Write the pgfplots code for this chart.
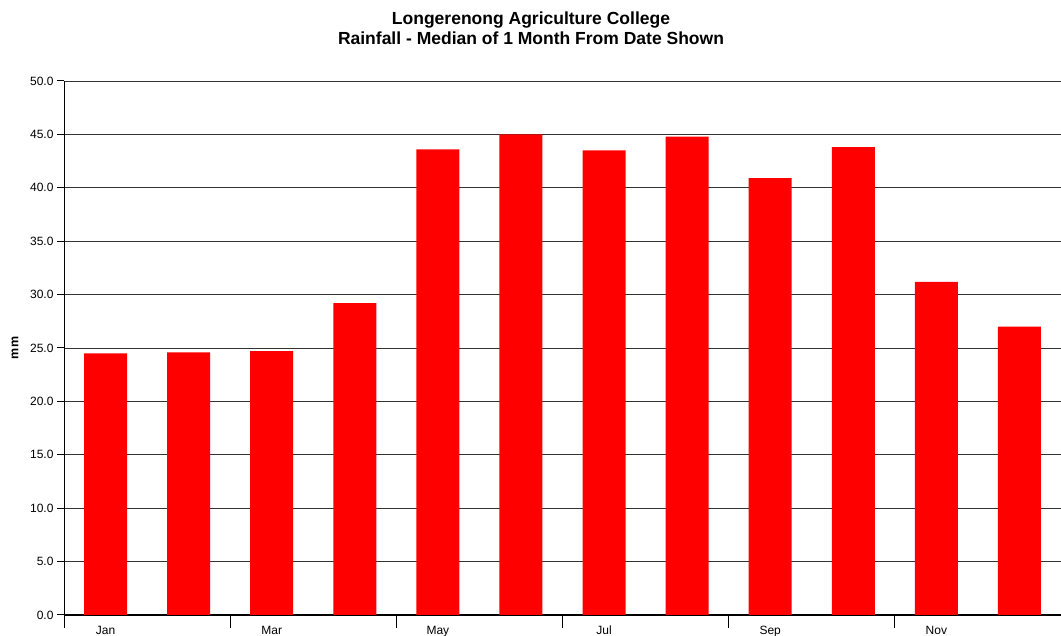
\documentclass[border=0pt]{standalone}
\usepackage{fontspec}
\setmainfont{Liberation Sans}
\usepackage{pgfplots}
\pgfplotsset{compat=1.18}
\pgfplotstableread{
x y
0.5 24.5
1.5 24.6
2.5 24.7
3.5 29.2
4.5 43.6
5.5 45.0
6.5 43.5
7.5 44.8
8.5 40.9
9.5 43.8
10.5 31.2
11.5 27.0
}\rain
\begin{document}
\begin{tikzpicture}
\path[use as bounding box] (0,0) rectangle (1061pt,636pt);
\begin{axis}[
  at={(64pt,21pt)}, anchor=south west,
  scale only axis, width=997pt, height=534pt,
  xmin=0, xmax=12, ymin=0, ymax=50,
  axis x line*=bottom, axis y line*=left,
  axis line style={black, line width=1pt},
  x axis line style={line width=1.6pt},
  tick align=outside,
  major tick length=7pt,
  ytick={0,5,...,50},
  yticklabel style={font=\fontsize{12}{14}\selectfont, /pgf/number format/fixed, /pgf/number format/fixed zerofill, /pgf/number format/precision=1},
  /pgf/number format/assume math mode=true,
  ymajorgrids, grid style={black!80, line width=0.9pt},
  xtick={0.5,2.5,4.5,6.5,8.5,10.5},
  xticklabels={Jan,Mar,May,Jul,Sep,Nov},
  xticklabel style={font=\fontsize{12}{14}\selectfont, text height=9pt, text depth=3pt},
  major x tick style={draw=none},
  extra x ticks={0,2,4,6,8,10},
  extra x tick labels={},
  extra x tick style={major tick length=13pt, major x tick style={draw=black, line width=1pt}},
  ytick style={black, line width=1pt},
  ybar, bar width=43pt,
]
\addplot[fill=red, draw=none] table[x=x,y=y] {\rain};
\end{axis}
\node[font=\bfseries\fontsize{17.5}{20}\selectfont, align=center] at (531pt,608pt) {Longerenong Agriculture College\\Rainfall - Median of 1 Month From Date Shown};
\node[font=\bfseries\fontsize{12.5}{14}\selectfont, rotate=90] at (15pt,288pt) {mm};
\end{tikzpicture}
\end{document}
